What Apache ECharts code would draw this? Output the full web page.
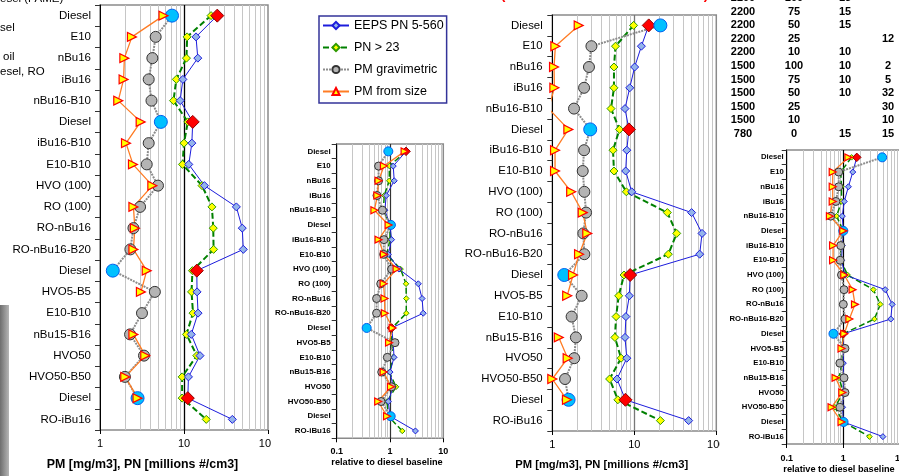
<!DOCTYPE html>
<html>
<head>
<meta charset="utf-8">
<script src="https://cdn.jsdelivr.net/npm/echarts@6/dist/echarts.min.js"></script>
<style>
html,body{margin:0;padding:0;background:#fff}
#main{width:899px;height:476px}
</style>
</head>
<body>
<div id="main"></div>
<script>
var FONT = '"Liberation Sans", Arial, Helvetica, sans-serif';

// categories (top -> bottom), same in all four panels
var cats = ['Diesel','E10','nBu16','iBu16','nBu16-B10','Diesel','iBu16-B10','E10-B10','HVO (100)','RO (100)',
            'RO-nBu16','RO-nBu16-B20','Diesel','HVO5-B5','E10-B10','nBu15-B16','HVO50','HVO50-B50','Diesel','RO-iBu16'];
var names = ['EEPS PN 5-560','PN > 23','PM gravimetric','PM from size'];

// panel A : absolute, left
var eepsA = [24.9,13.9,14.6,9.7,9.0,12.7,12.4,11.4,17.5,42,49.4,50.8,14.2,14.3,14.7,12.2,15.5,11.3,11.1,37.6];
var pn23A = [21,10.9,10.7,8.1,7.5,11.1,10,9.6,16.4,21.5,22.3,22.5,12.6,12.3,12.8,10.7,14.2,9.5,9.5,18.4];
var gravA = [7.2,4.6,4.2,3.8,4.1,5.3,3.8,3.6,4.9,3.0,2.5,2.3,1.42,4.5,3.16,2.28,3.34,1.98,2.8,null];
var sizeA = [5.7,2.4,1.95,1.91,1.65,3.05,2.04,2.47,4.2,2.5,2.6,2.5,3.6,3.07,null,2.5,3.46,2.0,2.8,null];

// panel B : relative to diesel, left
var eepsB = [2.0,1.15,1.2,0.85,0.8,1.0,1.07,0.93,1.47,3.4,4.0,4.2,1.07,1.15,1.19,1.0,1.15,0.93,1.0,3.0];
var pn23B = [2.0,0.97,0.97,0.78,0.75,1.0,1.0,0.87,1.58,2.0,2.02,2.02,1.1,1.07,1.17,0.97,1.3,0.88,0.93,1.7];
var gravB = [0.93,0.61,0.61,0.57,0.72,1.04,0.77,0.76,1.07,0.67,0.56,0.56,0.365,1.24,0.89,0.70,1.07,0.68,1.03,null];
var sizeB = [1.88,0.77,0.61,0.58,0.51,0.94,0.61,0.77,1.33,0.76,0.79,0.8,1.12,0.96,null,0.76,1.04,0.6,0.88,null];

// panel C : absolute, right
var eepsC = [15.0,12.2,10.1,8.8,7.7,8.6,8.1,7.85,9.3,50,67,62.7,8.9,8.7,7.9,7.7,8.1,6.15,7.8,46];
var pn23C = [9.8,5.9,5.65,5.65,5.2,6.6,5.5,5.65,8.0,25.3,32.9,26,7.5,6.45,6.0,5.8,6.9,5.0,6.3,20.8];
var gravC = [20.8,3.0,2.8,2.44,1.84,2.9,2.44,2.35,2.46,2.58,2.39,2.46,1.4,2.28,1.72,1.94,1.85,1.43,1.58,null];
var sizeC = [2.1,1.09,1.05,1.06,0.9,1.57,1.08,1.08,1.7,2.35,2.67,2.12,1.79,1.52,null,1.2,1.54,1.0,1.51,null];

// panel D : relative to diesel, right
var eepsD = [1.73,1.47,1.23,1.04,0.96,1.0,0.96,0.93,1.07,5.5,7.3,6.9,1.0,1.0,1.0,1.0,1.0,0.97,1.0,5.0];
var pn23D = [1.4,0.9,0.93,0.93,0.76,1.0,0.9,0.9,1.19,3.4,4.5,3.55,1.0,0.95,0.95,0.84,1.0,0.71,1.0,2.9];
var gravD = [4.86,0.83,0.83,0.74,0.6,1.0,0.9,0.88,0.93,1.03,1.0,1.07,0.67,1.07,0.87,1.03,1.07,0.87,1.01,null];
var sizeD = [1.23,0.65,0.65,0.65,0.58,1.0,0.66,0.66,1.04,1.46,1.61,1.28,1.04,0.93,null,0.73,0.96,0.62,0.93,null];

// log gridlines
var minorAbs = [2,3,4,5,6,7,8,9,20,30,40,50,60,70,80,90];
var minorRel = [0.2,0.3,0.4,0.5,0.6,0.7,0.8,0.9,2,3,4,5,6,7,8,9];

// operating point table (top right, cut off)
var tRpm  = ['2200','2200','2200','2200','2200','1500','1500','1500','1500','1500','780'];
var tLoad = ['100','75','50','25','10','100','75','50','25','10','0'];
var tC3   = ['15','15','15','','10','10','10','10','','','15'];
var tC4   = ['','','','12','','2','5','32','30','10','15'];

var panels = [
  {box:{left:100,top:5,width:168,height:425}, min:1, max:100, big:true, data:[eepsA,pn23A,gravA,sizeA],
   minor:minorAbs, mid:10, midColor:'#000', ylab:{size:11.5,bold:false,margin:9}, xlab:{size:11,bold:false,margin:8}},
  {box:{left:336.7,top:144,width:106.6,height:294.3}, min:0.1, max:10, big:false, data:[eepsB,pn23B,gravB,sizeB],
   minor:minorRel, mid:1, midColor:'#333', ylab:{size:7.9,bold:true,margin:6}, xlab:{size:9,bold:true,margin:9}},
  {box:{left:552.3,top:15,width:164,height:416}, min:1, max:100, big:true, data:[eepsC,pn23C,gravC,sizeC],
   minor:minorAbs, mid:10, midColor:'#777', ylab:{size:11.4,bold:false,margin:9.6}, xlab:{size:11,bold:false,margin:8}},
  {box:{left:786.7,top:150,width:113.2,height:294}, min:0.1, max:10, big:false, data:[eepsD,pn23D,gravD,sizeD],
   minor:minorRel, mid:1, midColor:'#000', ylab:{size:7.7,bold:true,margin:3}, xlab:{size:9,bold:true,margin:10}}
];

var grids = [], xAxes = [], yAxes = [], series = [];

panels.forEach(function(p, i){
  grids.push({left:p.box.left, top:p.box.top, width:p.box.width, height:p.box.height,
    show:true, borderColor:'#8a8a8a', borderWidth:1.5, backgroundColor:'transparent', outerBoundsMode:'none'});
  xAxes.push({type:'log', logBase:10, gridIndex:i, min:p.min, max:p.max,
    axisLine:{lineStyle:{color:'#000',width:1}},
    axisTick:{show:true,length:4,lineStyle:{color:'#000'}},
    splitLine:{show:false},
    axisLabel:{color:'#000',fontFamily:FONT,fontSize:p.xlab.size,fontWeight:p.xlab.bold?'bold':'normal',
      margin:p.xlab.margin,showMinLabel:true,showMaxLabel:true}});
  yAxes.push({type:'category', gridIndex:i, data:cats, inverse:true, boundaryGap:true,
    axisLine:{lineStyle:{color:'#000',width:1}},
    axisTick:{show:true,length:5,lineStyle:{color:'#333'}},
    splitLine:{show:false},
    axisLabel:{interval:0,color:'#000',fontFamily:FONT,fontSize:p.ylab.size,
      fontWeight:p.ylab.bold?'bold':'normal',margin:p.ylab.margin}});

  var big = p.big;
  // gridlines drawn through the log axis
  var ml = p.minor.map(function(v){ return {xAxis:v, lineStyle:{color:'#c6c6c6',width:1,type:'solid'}}; });
  ml.push({xAxis:p.mid, lineStyle:{color:p.midColor,width:big?1.3:1.2,type:'solid'}});
  series.push({name:'grid'+i, type:'line', xAxisIndex:i, yAxisIndex:i, data:[], z:1, silent:true,
    markLine:{silent:true, z:1, symbol:'none', animation:false, label:{show:false}, emphasis:{disabled:true}, data:ml}});

  function mk(vals, special){
    return vals.map(function(v, k){
      if (v == null) return null;
      if (special && cats[k] === 'Diesel') return Object.assign({value:v}, special);
      return v;
    });
  }

  // PN > 23
  series.push({name:names[1], type:'line', xAxisIndex:i, yAxisIndex:i, data:mk(p.data[1]),
    symbol:'diamond', symbolSize:big?8:5.5,
    lineStyle:{color:'#008000', width:big?2:1.5, type:[6,3]},
    itemStyle:{color:'#ffff00', borderColor:'#2f9a00', borderWidth:1}, emphasis:{disabled:true}});
  // EEPS
  series.push({name:names[0], type:'line', xAxisIndex:i, yAxisIndex:i,
    data:mk(p.data[0], {symbolSize:big?13:8.5, itemStyle:{color:'#ff0000', borderColor:'#900000', borderWidth:1}}),
    symbol:'diamond', symbolSize:big?8:6,
    lineStyle:{color:'#1c1cdc', width:1},
    itemStyle:{color:'#94b4ea', borderColor:'#1c1cdc', borderWidth:1}, emphasis:{disabled:true}});
  // PM gravimetric
  series.push({name:names[2], type:'line', xAxisIndex:i, yAxisIndex:i,
    data:mk(p.data[2], {symbolSize:big?13:9, itemStyle:{color:'#00c0ff', borderColor:'#0060f0', borderWidth:1}}),
    symbol:'circle', symbolSize:big?11:8,
    lineStyle:{color:'#8c8c8c', width:2, type:[2,1]},
    itemStyle:{color:'#b4b4b4', borderColor:'#333', borderWidth:1}, emphasis:{disabled:true}});
  // PM from size
  series.push({name:names[3], type:'line', xAxisIndex:i, yAxisIndex:i, data:mk(p.data[3]),
    symbol:'triangle', symbolRotate:-90, symbolSize:big?9:7,
    lineStyle:{color:'#ff7c24', width:1.3},
    itemStyle:{color:'#ffff00', borderColor:'#ff0000', borderWidth:1.2}, emphasis:{disabled:true}});
});

function txt(x, y, s, size, opt){
  opt = opt || {};
  return {type:'text', x:x, y:y, silent:true, z:10,
    style:{text:s, fill:opt.fill || '#000', fontFamily:FONT, fontSize:size, fontWeight:opt.bold?'bold':'normal',
      align:opt.align || 'left', textAlign:opt.align || 'left', verticalAlign:'middle', textVerticalAlign:'middle'}};
}

var graphic = [
  {type:'rect', shape:{x:0, y:305, width:9, height:171}, silent:true,
   style:{fill:new echarts.graphic.LinearGradient(0,0,1,0,[{offset:0,color:'#6e6e6e'},{offset:1,color:'#b5b5b5'}])}},
  // neighbouring panels overlap the ends of the "100" labels
  {type:'rect', shape:{x:271, y:436, width:12, height:15}, silent:true, z:10, style:{fill:'#fff'}},
  {type:'rect', shape:{x:720, y:436, width:12, height:15}, silent:true, z:10, style:{fill:'#fff'}},
  txt(0, -1, 'esel (FAME)', 11.5),
  txt(0, 28, 'sel', 11.5),
  txt(3, 57, 'oil', 11.5),
  txt(0, 72, 'esel, RO', 11.5),
  txt(503, -5, '(', 14, {fill:'#ff0000', bold:true, align:'center'}),
  txt(706, -5, ')', 14, {fill:'#ff0000', bold:true, align:'center'}),
  txt(142.5, 465, 'PM [mg/m3], PN [millions #/cm3]', 12.4, {bold:true, align:'center'}),
  txt(601.7, 465, 'PM [mg/m3], PN [millions #/cm3]', 11.2, {bold:true, align:'center'}),
  txt(387, 462, 'relative to diesel baseline', 9.2, {bold:true, align:'center'}),
  txt(839, 469, 'relative to diesel baseline', 9.2, {bold:true, align:'center'})
];
var colX = [743, 794, 845, 888];
tRpm.forEach(function(r, k){
  var y = -2 + k * 13.6;
  [r, tLoad[k], tC3[k], tC4[k]].forEach(function(s, c){
    if (s) graphic.push(txt(colX[c], y, s, 11, {bold:true, align:'center'}));
  });
});

var myChart = echarts.init(document.getElementById('main'));
var option = {
  animation:false,
  backgroundColor:'#fff',
  legend:{
    data:names, orient:'vertical', left:319, top:16,
    padding:[3,3,5,3], itemWidth:26, itemHeight:9, itemGap:9,
    backgroundColor:'#fff', borderColor:'#333399', borderWidth:1.5, borderRadius:0,
    symbolRotate:0, selectedMode:false,
    textStyle:{color:'#000', fontFamily:FONT, fontSize:12.5}
  },
  grid:grids,
  xAxis:xAxes,
  yAxis:yAxes,
  series:series,
  graphic:graphic
};
myChart.setOption(option);
</script>
</body>
</html>
